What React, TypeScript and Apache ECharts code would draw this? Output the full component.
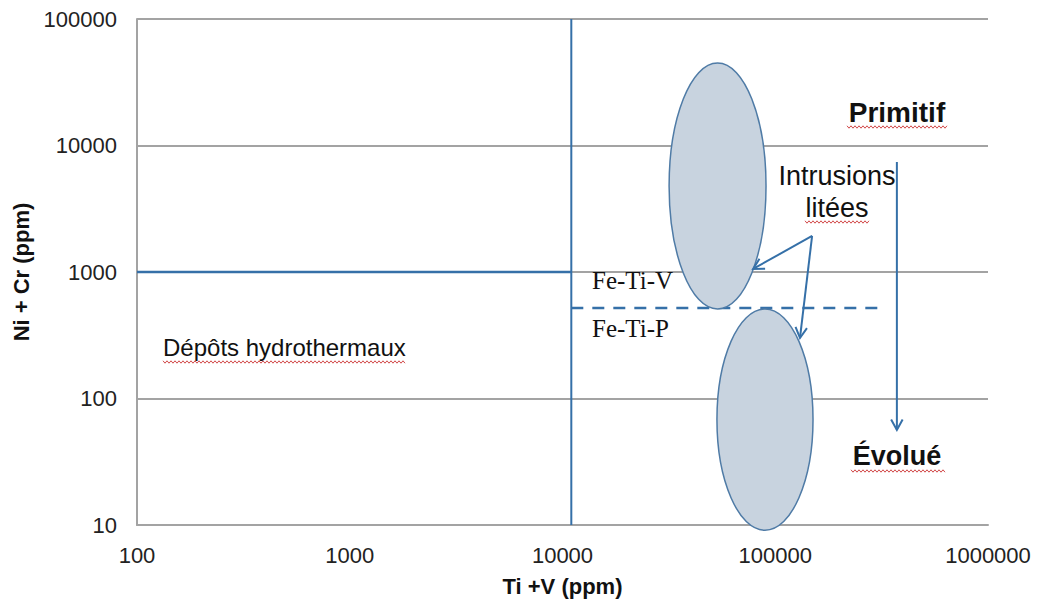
import React, { useEffect, useRef } from "react";
import * as echarts from "echarts";

// Axis extents (log scales)
const xRange = [100, 1000000];
const yRange = [10, 100000];

// Boundary lines of the discrimination diagram
const tiVBoundary = 11000; // vertical divider (Ti + V)
const hydroNiCrLimit = 1000; // upper limit of hydrothermal field (Ni + Cr)
const feTiSplitNiCr = 520; // Fe-Ti-V / Fe-Ti-P divide
const feTiSplitEnd = 320000;

// Layered-intrusion fields: [TiV min, TiV max, NiCr min, NiCr max]
const intrusionFields = [
  [31700, 90500, 510, 44900], // Fe-Ti-V
  [53200, 150500, 9.1, 510], // Fe-Ti-P
];

// Arrows: [x from, y from, x to, y to]
const arrowSegments = [
  [149000, 1930, 78700, 1057],
  [149000, 1930, 130700, 301],
  [373000, 7420, 373000, 56.4],
];

const BLUE = "#3570a8";
const GRID = "#a3a3a3";
const SANS = '"Liberation Sans", Arial, Helvetica, sans-serif';
const SERIF = '"Liberation Serif", "DejaVu Serif", serif';

function squiggle(x0: number, x1: number, y: number) {
  const pts: number[][] = [];
  let up = true;
  for (let x = x0; x <= x1; x += 2) {
    pts.push([x, y + (up ? -1.2 : 1.2)]);
    up = !up;
  }
  return {
    type: "polyline",
    silent: true,
    shape: { points: pts },
    style: { stroke: "#d24a4a", lineWidth: 1, fill: null },
    z: 10,
  };
}

export default function App() {
  const ref = useRef<HTMLDivElement>(null);

  useEffect(() => {
    if (!ref.current) return;
    const chart = echarts.init(ref.current, null, { renderer: "svg" });

    const numFmt = (v: number) => String(Math.round(v));

    chart.setOption({
      animation: false,
      backgroundColor: "#ffffff",
      grid: { left: 137, right: 50, top: 19, bottom: 77 },
      xAxis: {
        type: "log",
        logBase: 10,
        min: xRange[0],
        max: xRange[1],
        name: "Ti +V (ppm)",
        nameLocation: "middle",
        nameGap: 50,
        nameTextStyle: { fontFamily: SANS, fontWeight: "bold", fontSize: 22, color: "#111" },
        axisLine: { lineStyle: { color: GRID, width: 2 } },
        axisTick: { show: false },
        splitLine: { show: false },
        minorTick: { show: false },
        axisLabel: {
          formatter: numFmt,
          fontFamily: SANS,
          fontSize: 22,
          color: "#222",
          margin: 19,
        },
      },
      yAxis: {
        type: "log",
        logBase: 10,
        min: yRange[0],
        max: yRange[1],
        name: "Ni + Cr (ppm)",
        nameLocation: "middle",
        nameGap: 104,
        nameRotate: 90,
        nameTextStyle: { fontFamily: SANS, fontWeight: "bold", fontSize: 22, color: "#111" },
        axisLine: { show: true, lineStyle: { color: GRID, width: 2 } },
        axisTick: { show: false },
        splitLine: { show: true, lineStyle: { color: GRID, width: 2 } },
        axisLabel: {
          formatter: numFmt,
          fontFamily: SANS,
          fontSize: 22,
          color: "#222",
          margin: 20,
        },
      },
      series: [
        {
          type: "line",
          silent: true,
          symbol: "none",
          lineStyle: { color: BLUE, width: 2 },
          data: [
            [tiVBoundary, yRange[0]],
            [tiVBoundary, yRange[1]],
          ],
          z: 3,
        },
        {
          type: "line",
          silent: true,
          symbol: "none",
          lineStyle: { color: BLUE, width: 2.5 },
          data: [
            [xRange[0], hydroNiCrLimit],
            [tiVBoundary, hydroNiCrLimit],
          ],
          z: 3,
        },
        {
          type: "line",
          silent: true,
          symbol: "none",
          lineStyle: { color: BLUE, width: 2.5, type: [12, 9] },
          data: [
            [tiVBoundary, feTiSplitNiCr],
            [feTiSplitEnd, feTiSplitNiCr],
          ],
          z: 3,
        },
        {
          type: "custom",
          silent: true,
          clip: false,
          encode: { x: [0, 1], y: [2, 3] },
          data: intrusionFields,
          renderItem: (_p: any, api: any) => {
            const a = api.coord([api.value(0), api.value(3)]);
            const b = api.coord([api.value(1), api.value(2)]);
            return {
              type: "ellipse",
              shape: {
                cx: (a[0] + b[0]) / 2,
                cy: (a[1] + b[1]) / 2,
                rx: Math.abs(b[0] - a[0]) / 2,
                ry: Math.abs(b[1] - a[1]) / 2,
              },
              style: { fill: "#c8d3df", stroke: "#4f7ba6", lineWidth: 1.5 },
            };
          },
          z: 4,
        },
        {
          type: "custom",
          silent: true,
          clip: false,
          encode: { x: [0, 2], y: [1, 3] },
          data: arrowSegments,
          renderItem: (_p: any, api: any) => {
            const p = api.coord([api.value(0), api.value(1)]);
            const q = api.coord([api.value(2), api.value(3)]);
            const ang = Math.atan2(q[1] - p[1], q[0] - p[0]);
            const L = 12;
            const w = 0.5;
            const head = [
              [q[0] - L * Math.cos(ang - w), q[1] - L * Math.sin(ang - w)],
              [q[0], q[1]],
              [q[0] - L * Math.cos(ang + w), q[1] - L * Math.sin(ang + w)],
            ];
            return {
              type: "group",
              children: [
                {
                  type: "line",
                  shape: { x1: p[0], y1: p[1], x2: q[0], y2: q[1] },
                  style: { stroke: BLUE, lineWidth: 2 },
                },
                {
                  type: "polyline",
                  shape: { points: head },
                  style: { stroke: BLUE, lineWidth: 2, fill: null },
                },
              ],
            };
          },
          z: 5,
        },
      ],
      graphic: [
        {
          type: "text",
          left: 163,
          top: 335,
          style: { text: "Dépôts hydrothermaux", fontFamily: SANS, fontSize: 24, fill: "#111" },
          z: 10,
        },
        {
          type: "text",
          x: 897,
          y: 112,
          style: {
            text: "Primitif",
            fontFamily: SANS,
            fontWeight: "bold",
            fontSize: 28,
            fill: "#111",
            align: "center",
            verticalAlign: "middle",
          },
          z: 10,
        },
        {
          type: "text",
          x: 837,
          y: 176,
          style: {
            text: "Intrusions",
            fontFamily: SANS,
            fontSize: 27,
            fill: "#111",
            align: "center",
            verticalAlign: "middle",
          },
          z: 10,
        },
        {
          type: "text",
          x: 837,
          y: 208,
          style: {
            text: "litées",
            fontFamily: SANS,
            fontSize: 27,
            fill: "#111",
            align: "center",
            verticalAlign: "middle",
          },
          z: 10,
        },
        {
          type: "text",
          x: 897,
          y: 456,
          style: {
            text: "Évolué",
            fontFamily: SANS,
            fontWeight: "bold",
            fontSize: 27,
            fill: "#111",
            align: "center",
            verticalAlign: "middle",
          },
          z: 10,
        },
        {
          type: "text",
          x: 592,
          y: 280,
          style: { text: "Fe-Ti-V", fontFamily: SERIF, fontSize: 25, fill: "#111", verticalAlign: "middle" },
          z: 10,
        },
        {
          type: "text",
          x: 592,
          y: 328,
          style: { text: "Fe-Ti-P", fontFamily: SERIF, fontSize: 25, fill: "#111", verticalAlign: "middle" },
          z: 10,
        },
        squiggle(163, 405, 362),
        squiggle(847, 947, 127),
        squiggle(805, 870, 222),
        squiggle(851, 946, 471),
      ],
    });

    return () => chart.dispose();
  }, []);

  return (
    <div
      ref={ref}
      style={{ position: "fixed", left: 0, top: 0, width: 1038, height: 602, background: "#fff" }}
    />
  );
}
